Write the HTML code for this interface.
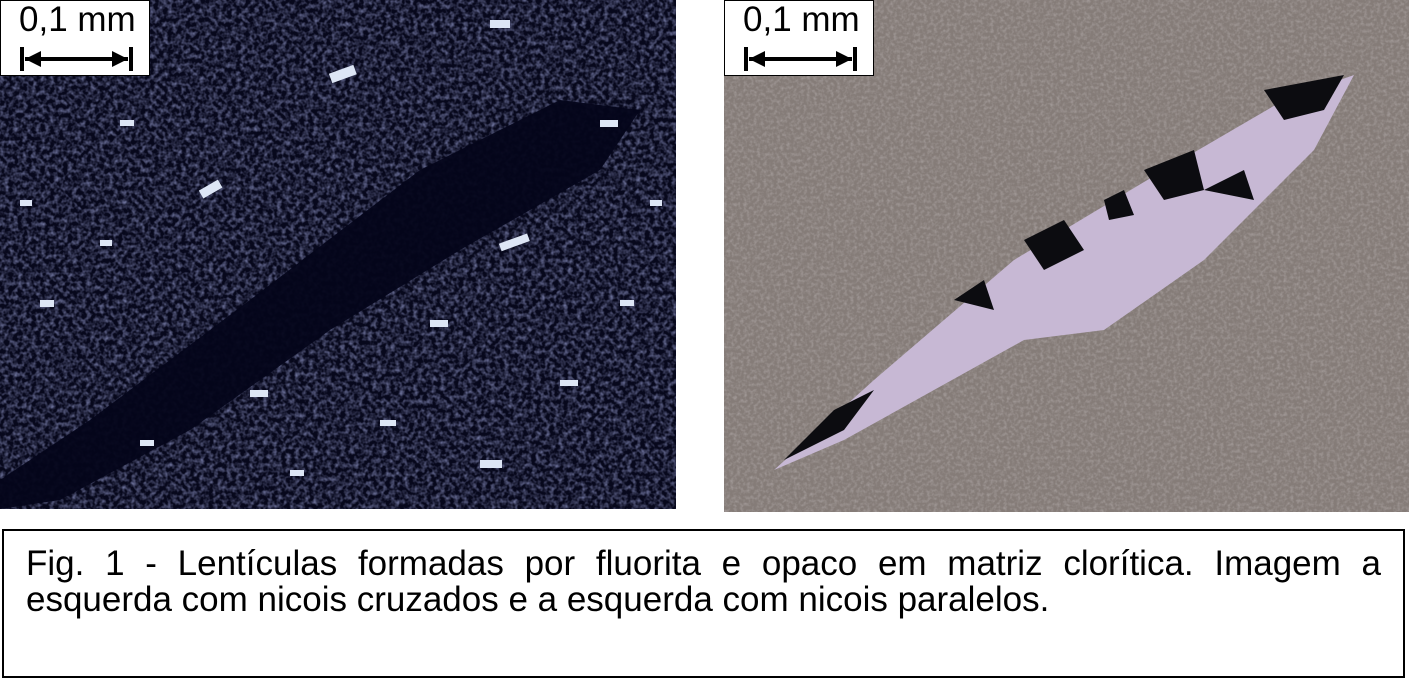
<!DOCTYPE html>
<html><head><meta charset="utf-8"><style>
body{margin:0;width:1409px;height:682px;background:#fff;position:relative;overflow:hidden;font-family:"Liberation Sans",sans-serif}
.abs{position:absolute}
.scale{position:absolute;background:#fff;border:1px solid #000;box-sizing:border-box}
.scale span{position:absolute;left:18px;top:-1px;font-size:35px;color:#000}
.cap{position:absolute;left:2px;top:529px;width:1403px;height:149px;border:2px solid #000;box-sizing:border-box}
.cap div{margin:0 22px 0 22px;font-size:35px;line-height:36px;color:#000}
.l1{margin-top:15px!important;text-align:justify;text-align-last:justify}
</style></head><body>
<svg class="abs" style="left:0;top:0" width="676" height="509">
<defs><filter id="n1"><feTurbulence type="fractalNoise" baseFrequency="0.22" numOctaves="2" seed="3"/><feColorMatrix values="0 0 0 0 0.2 0 0 0 0 0.22 0 0 0 0 0.42 0 0 0 1.6 -0.6"/></filter></defs>
<rect width="676" height="509" fill="#07081c"/>
<rect width="676" height="509" filter="url(#n1)"/>
<path d="M0 480 L90 420 L250 300 L420 170 L560 100 L640 110 L600 170 L460 250 L330 330 L190 430 L60 500 L0 509Z" fill="#04051a" opacity="0.95"/>
<g fill="#dde6f5">
<rect x="330" y="70" width="26" height="10" transform="rotate(-20 340 75)"/><rect x="490" y="20" width="20" height="8"/><rect x="200" y="185" width="22" height="9" transform="rotate(-30 210 190)"/>
<rect x="40" y="300" width="14" height="7"/><rect x="500" y="240" width="30" height="8" transform="rotate(-20 510 245)"/><rect x="430" y="320" width="18" height="7"/>
<rect x="120" y="120" width="14" height="6"/><rect x="600" y="120" width="18" height="7"/><rect x="250" y="390" width="18" height="7"/><rect x="480" y="460" width="22" height="8"/>
<rect x="620" y="300" width="14" height="6"/><rect x="20" y="200" width="12" height="6"/><rect x="380" y="420" width="16" height="6"/><rect x="560" y="380" width="18" height="6"/>
<rect x="140" y="440" width="14" height="6"/><rect x="100" y="240" width="12" height="6"/><rect x="290" y="470" width="14" height="6"/><rect x="650" y="200" width="12" height="6"/>
</g></svg>
<div class="scale" style="left:0;top:0;width:150px;height:76px"><span>0,1 mm</span>
<svg class="abs" style="left:18px;top:44px" width="116" height="28"><path d="M3 2V26M112 2V26M6 14H109" stroke="#000" stroke-width="4"/><path d="M6 14L22 6V22Z M109 14L93 6V22Z" fill="#000"/></svg></div>

<svg class="abs" style="left:724px;top:0" width="685" height="512">
<defs><filter id="n2"><feTurbulence type="fractalNoise" baseFrequency="0.3" numOctaves="2" seed="7"/><feColorMatrix values="0 0 0 0 0.5 0 0 0 0 0.46 0 0 0 0 0.46 0 0 0 1 -0.4"/></filter></defs>
<rect width="685" height="512" fill="#857c78"/>
<rect width="685" height="512" filter="url(#n2)"/>
<path d="M50 470 L150 380 L290 260 L440 170 L560 100 L630 75 L590 150 L480 260 L380 330 L300 340 L210 390 L120 440Z" fill="#c7b8d4"/>
<g fill="#0c0c10">
<path d="M60 460 L110 410 L150 390 L120 430Z"/><path d="M300 240 L340 220 L360 250 L320 270Z"/><path d="M420 170 L470 150 L480 190 L440 200Z"/>
<path d="M540 90 L620 75 L600 110 L560 120Z"/><path d="M230 300 L260 280 L270 310Z"/><path d="M380 200 L400 190 L410 215 L385 220Z"/><path d="M480 190 L520 170 L530 200Z"/>
</g></svg>
<div class="scale" style="left:724px;top:0;width:150px;height:76px"><span>0,1 mm</span>
<svg class="abs" style="left:18px;top:44px" width="116" height="28"><path d="M3 2V26M112 2V26M6 14H109" stroke="#000" stroke-width="4"/><path d="M6 14L22 6V22Z M109 14L93 6V22Z" fill="#000"/></svg></div>

<div class="cap"><div class="l1">Fig. 1 - Lentículas formadas por fluorita e opaco em matriz clorítica. Imagem a</div><div>esquerda com nicois cruzados e a esquerda com nicois paralelos.</div></div>
</body></html>
